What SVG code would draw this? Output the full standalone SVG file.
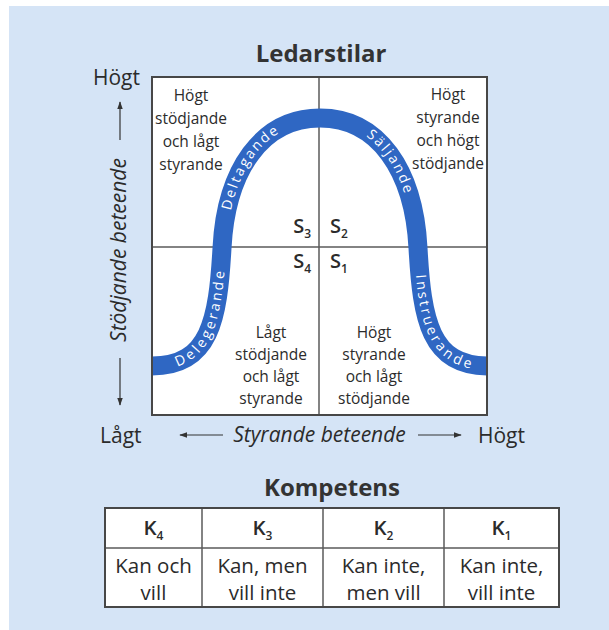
<svg xmlns="http://www.w3.org/2000/svg" width="609" height="630" viewBox="0 0 609 630">
<style>
text { font-family: "Open Sans", "Liberation Sans", sans-serif; fill: #2b2b2b; }
.title { font-size: 24px; font-weight: 700; text-anchor: middle; fill: #333; }
.q { font-size: 15.5px; text-anchor: middle; }
.ax { font-size: 21px; }
.axi { font-size: 21px; font-style: italic; }
.s { font-size: 20px; font-weight: 600; }
.sub { font-size: 12px; }
.bt { font-size: 14px; fill: #ffffff; letter-spacing: 2.5px; dominant-baseline: middle; }
.cell { font-size: 20.5px; text-anchor: middle; }
.kh { font-weight: 600; }
.frame { fill: none; stroke: #474747; stroke-width: 2; }
.grid { stroke: #5a5a5a; stroke-width: 1.5; fill: none; }
.arr { stroke: #333; stroke-width: 1.2; fill: none; }
.band { fill: none; stroke: #2f67c3; stroke-width: 19; }
</style>
<defs>
<marker id="ah" viewBox="0 0 10 10" refX="9" refY="5" markerWidth="8" markerHeight="8" orient="auto" markerUnits="userSpaceOnUse"><path d="M0,1.5 L10,5 L0,8.5 z" fill="#333"/></marker>
<path id="curve" d="M152,366 C210,366 218,320 222,248 C226,170 262,118 320,118 C378,118 414,170 418,248 C422,320 430,366 488,366"/>
<clipPath id="boxclip"><rect x="152" y="77" width="335" height="338"/></clipPath>
</defs>

<rect x="9" y="6" width="600" height="624" fill="#d5e4f6"/>

<g id="title"><text class="title" x="321" y="62">Ledarstilar</text></g>

<g id="chart">
<rect x="152" y="77" width="335" height="338" fill="#ffffff"/>
<line class="grid" x1="319" y1="77" x2="319" y2="415"/>
<line class="grid" x1="152" y1="247" x2="487" y2="247"/>
</g>

<g id="connectors">
<use href="#curve" class="band" clip-path="url(#boxclip)"/>
<text class="bt"><textPath href="#curve" startOffset="24">Delegerande</textPath></text>
<text class="bt"><textPath href="#curve" startOffset="194">Deltagande</textPath></text>
<text class="bt"><textPath href="#curve" startOffset="388">Säljande</textPath></text>
<text class="bt"><textPath href="#curve" startOffset="544">Instruerande</textPath></text>
</g>

<g id="frame"><rect class="frame" x="152" y="77" width="335" height="338"/></g>

<g id="q-s3">
<text class="q" x="191" y="101">Högt</text>
<text class="q" x="191" y="124">stödjande</text>
<text class="q" x="191" y="147">och lågt</text>
<text class="q" x="191" y="170">styrande</text>
<text class="s" x="311" y="233" text-anchor="end">S<tspan class="sub" dy="5">3</tspan></text>
</g>
<g id="q-s2">
<text class="q" x="448" y="100">Högt</text>
<text class="q" x="448" y="123">styrande</text>
<text class="q" x="448" y="146">och högt</text>
<text class="q" x="448" y="169">stödjande</text>
<text class="s" x="330" y="233">S<tspan class="sub" dy="5">2</tspan></text>
</g>
<g id="q-s4">
<text class="q" x="271" y="338">Lågt</text>
<text class="q" x="271" y="360">stödjande</text>
<text class="q" x="271" y="382">och lågt</text>
<text class="q" x="271" y="404">styrande</text>
<text class="s" x="311" y="268" text-anchor="end">S<tspan class="sub" dy="5">4</tspan></text>
</g>
<g id="q-s1">
<text class="q" x="374" y="338">Högt</text>
<text class="q" x="374" y="360">styrande</text>
<text class="q" x="374" y="382">och lågt</text>
<text class="q" x="374" y="404">stödjande</text>
<text class="s" x="330" y="268">S<tspan class="sub" dy="5">1</tspan></text>
</g>

<g id="y-axis">
<text class="ax" x="93" y="85">Högt</text>
<line class="arr" x1="120" y1="140" x2="120" y2="102" marker-end="url(#ah)"/>
<text class="axi" transform="translate(126,250) rotate(-90)" text-anchor="middle">Stödjande beteende</text>
<line class="arr" x1="120" y1="358" x2="120" y2="405" marker-end="url(#ah)"/>
</g>

<g id="x-axis">
<text class="ax" x="100" y="443">Lågt</text>
<line class="arr" x1="223" y1="435" x2="180" y2="435" marker-end="url(#ah)"/>
<text class="axi" x="319.5" y="442" text-anchor="middle">Styrande beteende</text>
<line class="arr" x1="418" y1="435" x2="461" y2="435" marker-end="url(#ah)"/>
<text class="ax" x="478" y="443">Högt</text>
</g>

<g id="kompetens-title"><text class="title" x="332" y="496">Kompetens</text></g>

<g id="table">
<rect x="105" y="508" width="454" height="99" fill="#ffffff"/>
<line class="grid" x1="105" y1="548" x2="559" y2="548"/>
<line class="grid" x1="202" y1="508" x2="202" y2="607"/>
<line class="grid" x1="323" y1="508" x2="323" y2="607"/>
<line class="grid" x1="444" y1="508" x2="444" y2="607"/>
<rect class="frame" x="105" y="508" width="454" height="99"/>
</g>
<g id="k4">
<text class="cell kh" x="153.5" y="535">K<tspan class="sub" dy="5">4</tspan></text>
<text class="cell" x="153.5" y="573">Kan och</text>
<text class="cell" x="153.5" y="600">vill</text>
</g>
<g id="k3">
<text class="cell kh" x="262.5" y="535">K<tspan class="sub" dy="5">3</tspan></text>
<text class="cell" x="262.5" y="573">Kan, men</text>
<text class="cell" x="262.5" y="600">vill inte</text>
</g>
<g id="k2">
<text class="cell kh" x="383.5" y="535">K<tspan class="sub" dy="5">2</tspan></text>
<text class="cell" x="383.5" y="573">Kan inte,</text>
<text class="cell" x="383.5" y="600">men vill</text>
</g>
<g id="k1">
<text class="cell kh" x="501.5" y="535">K<tspan class="sub" dy="5">1</tspan></text>
<text class="cell" x="501.5" y="573">Kan inte,</text>
<text class="cell" x="501.5" y="600">vill inte</text>
</g>
</svg>
